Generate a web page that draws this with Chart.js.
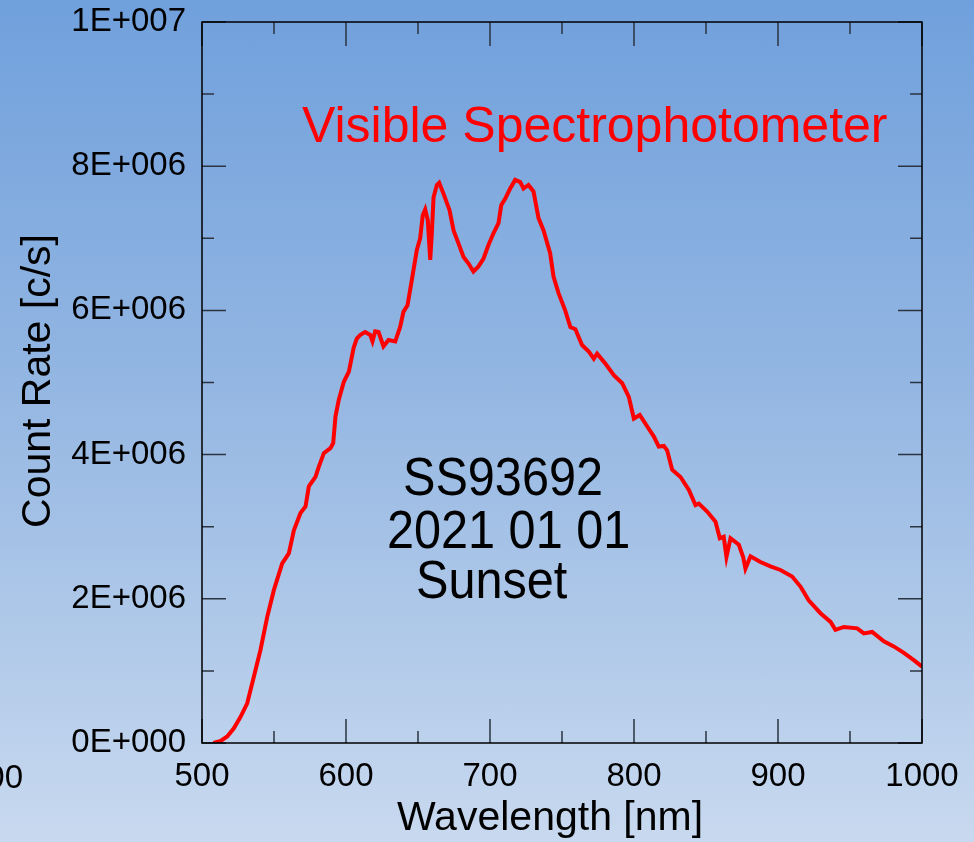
<!DOCTYPE html>
<html>
<head>
<meta charset="utf-8">
<script src="https://cdn.jsdelivr.net/npm/chart.js@4/dist/chart.umd.min.js"></script>
<style>
  html, body { margin: 0; padding: 0; }
  body {
    width: 974px; height: 842px; overflow: hidden;
    background: linear-gradient(to bottom, #70a0dc 0%, #93b6e2 45%, #c8d9ef 100%);
  }
  canvas { display: block; }
</style>
</head>
<body>
<canvas id="grafico" width="974" height="842"></canvas>
<script>
// Wavelength [nm] and count rate (millions of c/s)
const wavelength = [508, 513, 517.5, 522, 526.7, 531.4, 536, 540.6, 545.3, 549.9, 555.7, 560.3, 563.8, 568.4, 571.9, 574.2, 578.8, 581.1, 584.6, 589.2, 591.1, 592.7, 595, 598.5, 602, 605.3, 607.5, 610, 613.3, 616.8, 618.4, 620.3, 622.6, 626, 629.5, 634.2, 637.6, 639.9, 642.7, 645.7, 649.2, 651.5, 653.3, 655, 656.8, 658.5, 659.6, 660.8, 663.1, 664.7, 667.7, 671.9, 674.7, 678.1, 681.6, 685.1, 688.5, 692, 695.5, 699, 702.4, 705.9, 707.8, 710.6, 714, 717.5, 721, 723.3, 726.7, 730.2, 733.7, 737.2, 741.8, 744.1, 747.6, 752.2, 755.8, 759.3, 763.9, 768.6, 772.1, 774.4, 780.2, 786, 791.8, 796.4, 799.9, 804, 809.2, 813.8, 817.2, 820.7, 823, 826.5, 832.3, 838.1, 842.7, 845, 850.8, 856.6, 859.6, 862.3, 864.2, 867, 872.8, 875.8, 877.4, 880.9, 887.8, 894.8, 901.7, 909.8, 915.6, 921.3, 929.5, 936.5, 939.9, 945.7, 955, 959.6, 965.4, 973.5, 980.4, 987.4, 994.3, 1000];
const countRateM = [0, 0.03, 0.09, 0.2, 0.36, 0.55, 0.92, 1.29, 1.75, 2.12, 2.49, 2.63, 2.95, 3.19, 3.28, 3.56, 3.69, 3.83, 4.02, 4.09, 4.16, 4.53, 4.76, 5.01, 5.15, 5.48, 5.61, 5.66, 5.70, 5.66, 5.57, 5.71, 5.70, 5.50, 5.59, 5.57, 5.77, 5.98, 6.07, 6.42, 6.84, 7.00, 7.32, 7.40, 7.25, 6.70, 7.07, 7.57, 7.74, 7.77, 7.62, 7.39, 7.11, 6.93, 6.74, 6.65, 6.54, 6.61, 6.72, 6.91, 7.07, 7.21, 7.46, 7.55, 7.69, 7.81, 7.78, 7.69, 7.74, 7.65, 7.28, 7.11, 6.79, 6.47, 6.24, 6.0, 5.77, 5.74, 5.52, 5.43, 5.33, 5.40, 5.26, 5.10, 4.99, 4.80, 4.50, 4.55, 4.39, 4.25, 4.11, 4.12, 4.06, 3.79, 3.69, 3.51, 3.30, 3.32, 3.21, 3.07, 2.84, 2.86, 2.58, 2.84, 2.75, 2.58, 2.42, 2.59, 2.51, 2.45, 2.40, 2.31, 2.17, 1.98, 1.80, 1.68, 1.57, 1.61, 1.59, 1.52, 1.54, 1.41, 1.34, 1.25, 1.15, 1.06];

// axis ranges and ticks
const xTicks = [500, 600, 700, 800, 900, 1000];
const xMinorTicks = [550, 650, 750, 850, 950];
const yTicks = [0, 2e6, 4e6, 6e6, 8e6, 1e7];
const yMinorTicks = [1e6, 3e6, 5e6, 7e6, 9e6];

const FONTE = "'Liberation Sans', Arial, sans-serif";

function formatarExp(v) {
    if (v === 0) return "0E+000";
    const e = Math.floor(Math.log10(v) + 1e-9);
    const m = Math.round(v / Math.pow(10, e));
    return `${m}E+${String(e).padStart(3, "0")}`;
}

// Moldura e marcas internas dos eixos
const molduraPlugin = {
    id: "moldura",
    afterDatasetsDraw(chart) {
        const { ctx, chartArea: a, scales: { x, y } } = chart;
        ctx.save();
        ctx.strokeStyle = "#2b3440";
        ctx.lineWidth = 1.5;
        ctx.beginPath();
        const marca = (lista, len) => {
            lista.forEach(v => {
                const px = x.getPixelForValue(v);
                ctx.moveTo(px, a.bottom); ctx.lineTo(px, a.bottom - len);
                ctx.moveTo(px, a.top); ctx.lineTo(px, a.top + len);
            });
        };
        const marcaY = (lista, len) => {
            lista.forEach(v => {
                const py = y.getPixelForValue(v);
                ctx.moveTo(a.left, py); ctx.lineTo(a.left + len, py);
                ctx.moveTo(a.right, py); ctx.lineTo(a.right - len, py);
            });
        };
        marca(xTicks, 24);
        marca(xMinorTicks, 12);
        marcaY(yTicks, 24);
        marcaY(yMinorTicks, 12);
        ctx.stroke();
        ctx.strokeStyle = "#000";
        ctx.strokeRect(a.left, a.top, a.right - a.left, a.bottom - a.top);
        ctx.restore();
    }
};

// Textos: titulos dos eixos e anotacoes
const textosPlugin = {
    id: "textos",
    afterDraw(chart) {
        const { ctx } = chart;
        ctx.save();
        ctx.textBaseline = "alphabetic";
        ctx.textAlign = "left";

        ctx.fillStyle = "#ff0000";
        ctx.font = `50px ${FONTE}`;
        ctx.fillText("Visible Spectrophotometer", 302, 142);

        ctx.fillStyle = "#000";
        const linha = (txt, x, yb) => {
            ctx.save();
            ctx.translate(x, yb);
            ctx.scale(0.9, 1);
            ctx.font = `54px ${FONTE}`;
            ctx.fillText(txt, 0, 0);
            ctx.restore();
        };
        linha("SS93692", 403, 495);
        linha("2021 01 01", 387, 548);
        linha("Sunset", 416, 598);

        ctx.font = `41px ${FONTE}`;
        ctx.textAlign = "center";
        ctx.fillText("Wavelength [nm]", 550, 830);

        ctx.save();
        ctx.translate(50, 381);
        ctx.rotate(-Math.PI / 2);
        ctx.fillText("Count Rate [c/s]", 0, 0);
        ctx.restore();

        // pedaco de rotulo cortado na borda esquerda
        ctx.font = `33px ${FONTE}`;
        ctx.textAlign = "right";
        ctx.textBaseline = "middle";
        ctx.fillText("00", 23, 779);
        ctx.restore();
    }
};

const ctx = document.getElementById("grafico").getContext("2d");
new Chart(ctx, {
    type: "line",
    data: {
        datasets: [{
            label: "Count Rate",
            data: wavelength.map((w, i) => ({ x: w, y: countRateM[i] * 1e6 })),
            borderColor: "#ff0000",
            borderWidth: 4,
            pointRadius: 0,
            tension: 0,
            fill: false
        }]
    },
    options: {
        responsive: false,
        animation: false,
        devicePixelRatio: 1,
        layout: { padding: { top: 22, right: 52, left: 0, bottom: 0 } },
        plugins: {
            legend: { display: false },
            title: { display: false },
            tooltip: { enabled: false }
        },
        scales: {
            x: {
                type: "linear",
                min: 500,
                max: 1000,
                afterBuildTicks: s => { s.ticks = xTicks.map(v => ({ value: v })); },
                afterFit: s => { s.height = 99; s.paddingLeft = 0; s.paddingRight = 0; },
                grid: { display: false },
                border: { display: false },
                ticks: {
                    color: "#000",
                    font: { family: FONTE, size: 33 },
                    padding: 6,
                    maxRotation: 0,
                    autoSkip: false,
                    callback: v => String(v)
                }
            },
            y: {
                type: "linear",
                min: 0,
                max: 1e7,
                afterBuildTicks: s => { s.ticks = yTicks.map(v => ({ value: v })); },
                afterFit: s => { s.width = 202; s.paddingTop = 0; s.paddingBottom = 0; },
                grid: { display: false },
                border: { display: false },
                ticks: {
                    color: "#000",
                    font: { family: FONTE, size: 33 },
                    padding: 8,
                    autoSkip: false,
                    callback: v => formatarExp(v)
                }
            }
        }
    },
    plugins: [molduraPlugin, textosPlugin]
});
</script>
</body>
</html>
